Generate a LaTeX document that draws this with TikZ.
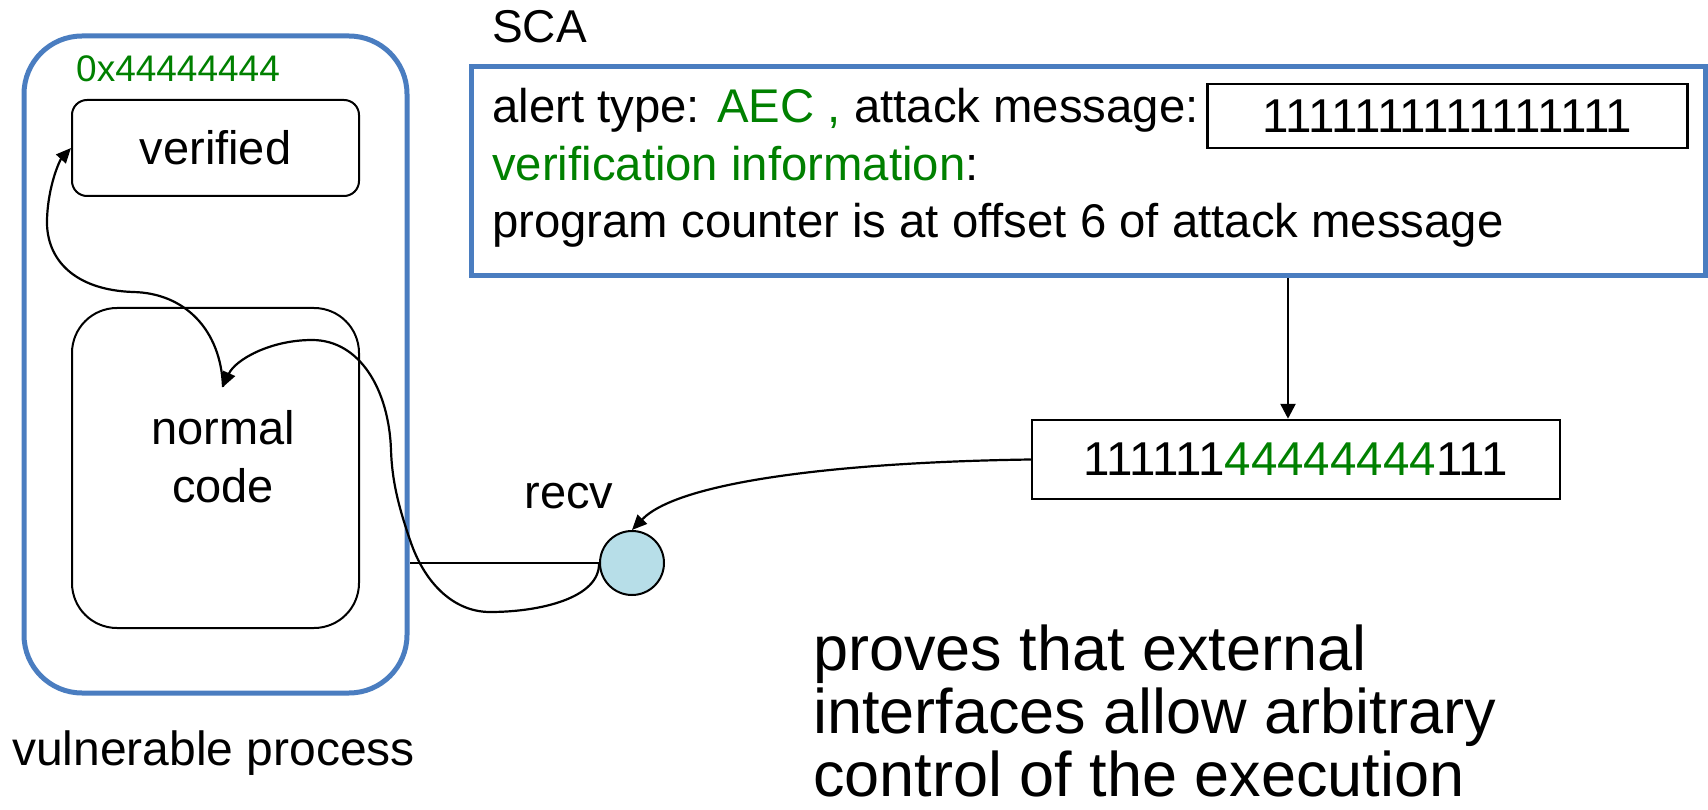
\documentclass[tikz,border=0pt]{standalone}
\usepackage{fontspec}
\setmainfont{Liberation Sans}
\usetikzlibrary{arrows.meta}
\definecolor{procblue}{RGB}{74,125,192}
\definecolor{codegreen}{RGB}{0,128,0}
\definecolor{recvfill}{RGB}{183,222,232}
\newcommand{\myfs}[1]{\fontsize{#1pt}{#1pt}\selectfont}
\tikzset{
  bluebox/.style={draw=procblue, line width=5pt, inner sep=0pt},
  roundbox/.style={draw=black, line width=2pt, inner sep=0pt},
  msgbox/.style={draw=black, line width=2.5pt, inner sep=0pt, font=\myfs{47.5}},
  txt/.style={inner sep=0pt},
  scatext/.style={inner sep=0pt, font=\myfs{47.3}, anchor=base west},
  notetext/.style={inner sep=0pt, font=\myfs{63}, anchor=base west},
  conn/.style={draw=black, line width=2.2pt},
  arrowtip/.style={-{Triangle[length=15pt,width=13pt]}},
}
\begin{document}
\begin{tikzpicture}[x=1pt,y=-1pt]
\useasboundingbox (0,0) rectangle (1708,810);

% vulnerable process
\node[bluebox, rounded corners=58pt, minimum width=383pt, minimum height=657pt] (proc) at (215.5,364.5) {};
\node[roundbox, rounded corners=15pt, minimum width=287pt, minimum height=96pt, font=\myfs{47}] (verified) at (215.5,148) {verified};
\node[roundbox, rounded corners=45pt, minimum width=287pt, minimum height=320pt] (code) at (215.5,468) {};
\node[txt, font=\myfs{47}, anchor=base] (normaltxt) at (223,444) {normal};
\node[txt, font=\myfs{47}, anchor=base] (codetxt) at (223,502) {code};
\node[txt, font=\myfs{37}, text=codegreen, anchor=base west] (addr) at (76,82) {0x44444444};
\node[txt, font=\myfs{48}, anchor=base west] (vp) at (12,765) {vulnerable process};
\coordinate (codein) at (223,387);

% recv
\node[circle, draw=black, fill=recvfill, line width=2pt, minimum size=64pt, inner sep=0pt] (recv) at (632,563) {};
\node[txt, font=\myfs{47}, anchor=base] (recvlbl) at (569,508) {recv};

% SCA
\node[txt, font=\myfs{46}, anchor=base west] (scalbl) at (492,43) {SCA};
\node[bluebox, minimum width=1234pt, minimum height=209pt] (sca) at (1088,171.5) {};
\node[scatext] (l1) at (492,123) {alert type: \textcolor{codegreen}{AEC ,} attack message:};
\node[scatext] (l2) at (492,181) {\textcolor{codegreen}{verification information}:};
\node[scatext] (l3) at (492,238) {program counter is at offset 6 of attack message};
\node[msgbox, minimum width=480pt, minimum height=64pt] (msg1) at (1447.5,116) {1111111111111111};
\node[msgbox, minimum width=528pt, minimum height=79pt] (msg2) at (1296,459.5) {111111\textcolor{codegreen}{44444444}111};

% note
\node[notetext] (n1) at (813,670) {proves that external};
\node[notetext] (n2) at (813,733) {interfaces allow arbitrary};
\node[notetext] (n3) at (813,796) {control of the execution};

% connectors
\draw[conn, line width=2pt] (recv.west) -- (recv.west -| proc.east);
\draw[conn, line width=2.6pt, -{Triangle[length=15pt,width=15pt]}] ([xshift=-8pt]msg2.north |- sca.south) -- ([xshift=-8pt]msg2.north);
\draw[conn, arrowtip] (msg2.west) .. controls (850,462) and (680,480) .. (recv.north);
\draw[conn, arrowtip] (recv.west) .. controls (600,598) and (540,612) .. (490,612)
  .. controls (455,612) and (425,585) .. (410,540)
  .. controls (398,505) and (392,480) .. (391,450)
  .. controls (389,390) and (360,340) .. (312,340)
  .. controls (270,340) and (235,360) .. (codein);
\draw[conn, arrowtip] (codein) .. controls (221,330) and (185,293) .. (133,292)
  .. controls (75,290) and (46,260) .. (47,220)
  .. controls (48,185) and (60,160) .. (verified.west);
\end{tikzpicture}
\end{document}
